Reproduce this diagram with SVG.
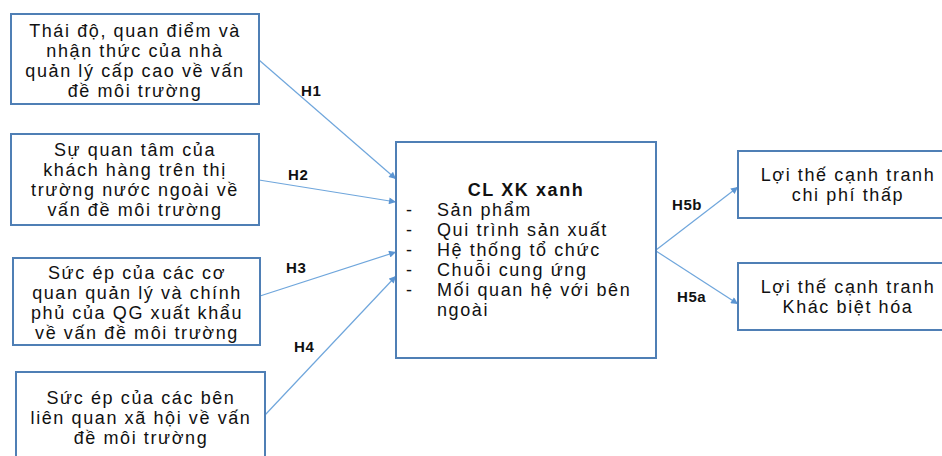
<svg xmlns="http://www.w3.org/2000/svg" width="942" height="456" viewBox="0 0 942 456">
  <style>
    .box { fill: #ffffff; stroke: #4f7fb5; stroke-width: 2; }
    .t { font-family: "Liberation Sans", Arial, sans-serif; font-size: 18px; fill: #111; letter-spacing: 1.6px; }
    .c { text-anchor: middle; }
    .lbl { font-family: "Liberation Sans", Arial, sans-serif; font-size: 15px; font-weight: bold; fill: #111; letter-spacing: 0.6px; }
    .edge { stroke: #6fa6dc; stroke-width: 1.2; fill: none; marker-end: url(#arrow); }
  </style>
  <defs>
    <marker id="arrow" viewBox="0 0 10 10" refX="10" refY="5" markerWidth="8" markerHeight="7" markerUnits="userSpaceOnUse" orient="auto">
      <path d="M0,0 L10,5 L0,10 z" fill="#5b95d3"/>
    </marker>
  </defs>
  <rect width="942" height="456" fill="#ffffff"/>

  <g id="connectors">
    <line class="edge" x1="259" y1="60" x2="396" y2="179"/>
    <line class="edge" x1="259" y1="180" x2="396" y2="202"/>
    <line class="edge" x1="260" y1="296" x2="396" y2="252"/>
    <line class="edge" x1="265" y1="415" x2="396" y2="276"/>
    <line class="edge" x1="656" y1="250" x2="738" y2="187"/>
    <line class="edge" x1="656" y1="251" x2="738" y2="304"/>
    <text class="lbl" x="301" y="96">H1</text>
    <text class="lbl" x="288" y="180">H2</text>
    <text class="lbl" x="286" y="273">H3</text>
    <text class="lbl" x="294" y="352">H4</text>
    <text class="lbl" x="672" y="210">H5b</text>
    <text class="lbl" x="677" y="302">H5a</text>
  </g>

  <g id="attitude">
    <rect class="box" x="11" y="14" width="248" height="90"/>
    <text class="t c" x="135" y="37">Thái độ, quan điểm và</text>
    <text class="t c" x="135" y="57">nhận thức của nhà</text>
    <text class="t c" x="135" y="77">quản lý cấp cao về vấn</text>
    <text class="t c" x="135" y="97">đề môi trường</text>
  </g>

  <g id="customers">
    <rect class="box" x="11" y="134" width="248" height="91"/>
    <text class="t c" x="135" y="156">Sự quan tâm của</text>
    <text class="t c" x="135" y="176">khách hàng trên thị</text>
    <text class="t c" x="135" y="196">trường nước ngoài về</text>
    <text class="t c" x="135" y="216">vấn đề môi trường</text>
  </g>

  <g id="government">
    <rect class="box" x="13" y="258" width="247" height="87"/>
    <text class="t c" x="137" y="279">Sức ép của các cơ</text>
    <text class="t c" x="137" y="299">quan quản lý và chính</text>
    <text class="t c" x="137" y="319">phủ của QG xuất khẩu</text>
    <text class="t c" x="137" y="339">về vấn đề môi trường</text>
  </g>

  <g id="stakeholders">
    <rect class="box" x="16" y="372" width="249" height="100"/>
    <text class="t c" x="141" y="404">Sức ép của các bên</text>
    <text class="t c" x="141" y="424">liên quan xã hội về vấn</text>
    <text class="t c" x="141" y="444">đề môi trường</text>
  </g>

  <g id="strategy">
    <rect class="box" x="396" y="142" width="260" height="216"/>
    <text class="t c" x="526" y="196" font-weight="bold" letter-spacing="0.6">CL XK xanh</text>
    <text class="t" x="406" y="216">-</text>
    <text class="t" x="437" y="216">Sản phẩm</text>
    <text class="t" x="406" y="236">-</text>
    <text class="t" x="437" y="236">Qui trình sản xuất</text>
    <text class="t" x="406" y="256">-</text>
    <text class="t" x="437" y="256">Hệ thống tổ chức</text>
    <text class="t" x="406" y="276">-</text>
    <text class="t" x="437" y="276">Chuỗi cung ứng</text>
    <text class="t" x="406" y="296">-</text>
    <text class="t" x="437" y="296">Mối quan hệ với bên</text>
    <text class="t" x="437" y="316">ngoài</text>
  </g>

  <g id="low-cost">
    <rect class="box" x="738" y="151" width="220" height="67"/>
    <text class="t c" x="848" y="181">Lợi thế cạnh tranh</text>
    <text class="t c" x="848" y="201">chi phí thấp</text>
  </g>

  <g id="differentiation">
    <rect class="box" x="738" y="263" width="220" height="67"/>
    <text class="t c" x="848" y="293">Lợi thế cạnh tranh</text>
    <text class="t c" x="848" y="313">Khác biệt hóa</text>
  </g>
</svg>
